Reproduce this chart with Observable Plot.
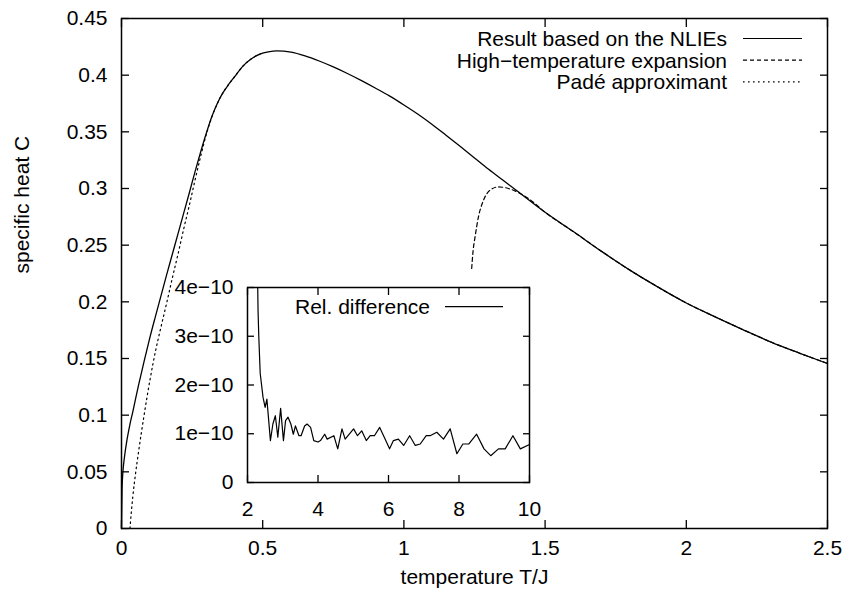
<!DOCTYPE html>
<html><head><meta charset="utf-8">
<script src="https://cdn.jsdelivr.net/npm/d3@7"></script>
<script src="https://cdn.jsdelivr.net/npm/@observablehq/plot@0.6"></script>
<style>
body{margin:0;background:#fff;}
#wrap{position:relative;width:847px;height:596px;overflow:hidden;}
</style></head><body><div id="wrap"></div>
<script>
const FONT = "'Liberation Sans', Arial, Helvetica, sans-serif";
const FS = 21;

// Result based on the NLIEs
const nlieT = [0, 0.002, 0.005, 0.01, 0.02, 0.03, 0.04, 0.06, 0.08, 0.1, 0.12, 0.14, 0.16, 0.18, 0.2, 0.22, 0.24, 0.26, 0.28, 0.3, 0.32, 0.34, 0.36, 0.38, 0.4, 0.43, 0.46, 0.49, 0.52, 0.55, 0.6, 0.65, 0.7, 0.75, 0.8, 0.85, 0.9, 0.95, 1.0, 1.05, 1.1, 1.15, 1.2, 1.25, 1.3, 1.35, 1.4, 1.5, 1.6, 1.7, 1.8, 1.9, 2.0, 2.1, 2.2, 2.3, 2.4, 2.5];
const nlieC = [0, 0.035, 0.05, 0.062, 0.079, 0.092, 0.103, 0.126, 0.1475, 0.168, 0.187, 0.2055, 0.224, 0.242, 0.26, 0.278, 0.296, 0.3145, 0.332, 0.3485, 0.3635, 0.3755, 0.3848, 0.392, 0.3985, 0.408, 0.4145, 0.4185, 0.4205, 0.4214, 0.4203, 0.417, 0.4125, 0.4073, 0.4015, 0.3952, 0.3885, 0.3815, 0.3737, 0.3655, 0.3565, 0.3468, 0.337, 0.327, 0.317, 0.3075, 0.298, 0.279, 0.262, 0.2445, 0.228, 0.213, 0.199, 0.187, 0.1755, 0.1645, 0.1548, 0.1456];

// Padé approximant
const padeT = [0.03, 0.035, 0.04, 0.05, 0.06, 0.07, 0.08, 0.1, 0.12, 0.14, 0.16, 0.18, 0.2, 0.22, 0.24, 0.26, 0.28, 0.3, 0.32, 0.34, 0.36, 0.38, 0.4, 0.43, 0.46, 0.5];
const padeC = [0, 0.015, 0.028, 0.049, 0.067, 0.084, 0.1, 0.13, 0.156, 0.178, 0.199, 0.221, 0.242, 0.264, 0.285, 0.307, 0.328, 0.3475, 0.3632, 0.3753, 0.3848, 0.392, 0.3985, 0.408, 0.4145, 0.4195];

// High-temperature expansion
const htT = [1.24, 1.245, 1.252, 1.264, 1.282, 1.305, 1.335, 1.37, 1.405, 1.45, 1.5, 1.6, 1.7, 1.8, 1.9, 2.0, 2.1, 2.2, 2.3, 2.4, 2.5];
const htC = [0.2294, 0.245, 0.2573, 0.275, 0.2897, 0.2985, 0.3014, 0.3, 0.2965, 0.2895, 0.279, 0.262, 0.2445, 0.228, 0.213, 0.199, 0.187, 0.1755, 0.1645, 0.1548, 0.1456];

// Inset: relative difference
const relT = [2.29, 2.3, 2.32, 2.36, 2.44, 2.5, 2.55, 2.65, 2.72, 2.79, 2.86, 2.94, 3.02, 3.08, 3.15, 3.23, 3.3, 3.36, 3.46, 3.52, 3.62, 3.69, 3.79, 3.88, 4.0, 4.07, 4.19, 4.26, 4.45, 4.56, 4.68, 4.77, 5.01, 5.12, 5.24, 5.37, 5.48, 5.6, 5.75, 5.88, 6.03, 6.14, 6.28, 6.43, 6.6, 6.76, 6.9, 7.07, 7.18, 7.37, 7.56, 7.75, 7.94, 8.11, 8.28, 8.5, 8.71, 8.9, 9.12, 9.31, 9.53, 9.74, 10];
const relD = [4.0e-10, 3.5e-10, 3.0e-10, 2.24e-10, 1.75e-10, 1.54e-10, 1.71e-10, 0.86e-10, 1.2e-10, 1.37e-10, 0.93e-10, 1.52e-10, 0.86e-10, 1.27e-10, 1.34e-10, 1.2e-10, 0.99e-10, 1.16e-10, 0.96e-10, 0.96e-10, 1.16e-10, 1.2e-10, 1.13e-10, 0.86e-10, 0.83e-10, 0.86e-10, 0.99e-10, 0.89e-10, 0.96e-10, 0.69e-10, 1.1e-10, 0.89e-10, 1.1e-10, 0.96e-10, 1.06e-10, 0.86e-10, 0.96e-10, 0.96e-10, 1.13e-10, 0.93e-10, 0.69e-10, 0.86e-10, 0.89e-10, 0.76e-10, 0.96e-10, 0.76e-10, 0.79e-10, 0.96e-10, 0.96e-10, 1.03e-10, 0.89e-10, 1.1e-10, 0.59e-10, 0.79e-10, 0.79e-10, 0.99e-10, 0.69e-10, 0.55e-10, 0.69e-10, 0.69e-10, 0.96e-10, 0.69e-10, 0.78e-10];

// ticks and labels
const xTicks = [0, 0.5, 1, 1.5, 2, 2.5];
const xTickLabels = ["0", "0.5", "1", "1.5", "2", "2.5"];
const yTicks = [0, 0.05, 0.1, 0.15, 0.2, 0.25, 0.3, 0.35, 0.4, 0.45];
const yTickLabels = ["0", "0.05", "0.1", "0.15", "0.2", "0.25", "0.3", "0.35", "0.4", "0.45"];
const insetXTicks = [2, 4, 6, 8, 10];
const insetXTickLabels = ["2", "4", "6", "8", "10"];
const insetYTicks = [0, 1e-10, 2e-10, 3e-10, 4e-10];
const insetYTickLabels = ["0", "1e\u221210", "2e\u221210", "3e\u221210", "4e\u221210"];
const legendLabels = ["Result based on the NLIEs", "High\u2212temperature expansion", "Pad\u00e9 approximant"];
const insetLegendLabel = "Rel. difference";
const xLabel = "temperature T/J";
const yLabel = "specific heat C";

const zip = (xs, ys, kx, ky) => xs.map((v, i) => ({[kx]: v, [ky]: ys[i]}));
const nlie = zip(nlieT, nlieC, "T", "C");
const pade = zip(padeT, padeC, "T", "C");
const ht = zip(htT, htC, "T", "C");
const rel = zip(relT, relD, "T", "D");

const W = 847, H = 596, ML = 121, MR = 20, MT = 18, MB = 68;
const dashes = [null, "4,3", "1.6,3.4"];

const main = Plot.plot({
  width: W, height: H,
  marginLeft: ML, marginRight: MR, marginTop: MT, marginBottom: MB,
  style: {fontFamily: FONT, fontSize: FS + "px", color: "#000", background: "#fff", overflow: "visible"},
  x: {domain: [0, 2.5], label: null},
  y: {domain: [0, 0.45], label: null},
  marks: [
    Plot.axisX({anchor: "bottom", ticks: xTicks, tickSize: -8, tickPadding: 20, strokeWidth: 1.3,
      tickFormat: d => xTickLabels[xTicks.indexOf(d)], label: null}),
    Plot.axisX({anchor: "top", ticks: xTicks, tickSize: -8, strokeWidth: 1.3, tickFormat: () => "", label: null}),
    Plot.axisY({anchor: "left", ticks: yTicks, tickSize: -8, tickPadding: 22, strokeWidth: 1.3,
      tickFormat: d => yTickLabels[yTicks.indexOf(d)], label: null}),
    Plot.axisY({anchor: "right", ticks: yTicks, tickSize: -8, strokeWidth: 1.3, tickFormat: () => "", label: null}),
    Plot.line(pade, {x: "T", y: "C", stroke: "black", strokeWidth: 1.2, strokeDasharray: dashes[2], curve: "monotone-x"}),
    Plot.line(ht, {x: "T", y: "C", stroke: "black", strokeWidth: 1.2, strokeDasharray: dashes[1], curve: "monotone-x"}),
    Plot.line(nlie, {x: "T", y: "C", stroke: "black", strokeWidth: 1.3, curve: "monotone-x"}),
    Plot.frame({stroke: "black", strokeWidth: 1.5}),
    Plot.text([xLabel], {frameAnchor: "bottom", dy: 55, text: d => d, fill: "black"}),
    Plot.text([yLabel], {frameAnchor: "left", dx: -99, rotate: -90, text: d => d, fill: "black"})
  ]
});

// legend (layout only)
{
  const g = d3.select(main).append("g").attr("font-family", FONT).attr("font-size", FS);
  legendLabels.forEach((lab, i) => {
    const y = 38.5 + 21.7 * i;
    g.append("text").attr("x", 727).attr("y", y).attr("dy", "0.35em").attr("text-anchor", "end").attr("fill", "black").text(lab);
    const ln = g.append("line").attr("x1", 743).attr("x2", 802).attr("y1", y).attr("y2", y)
      .attr("stroke", "black").attr("stroke-width", 1.2);
    if (dashes[i]) ln.attr("stroke-dasharray", dashes[i]);
  });
}

const IL = 90, IR = 12, IT = 12, IB = 45, IW = 282, IH = 195;
const inset = Plot.plot({
  width: IL + IW + IR, height: IT + IH + IB,
  marginLeft: IL, marginRight: IR, marginTop: IT, marginBottom: IB,
  style: {fontFamily: FONT, fontSize: FS + "px", color: "#000", background: "transparent", overflow: "visible"},
  x: {domain: [2, 10], label: null},
  y: {domain: [0, 4e-10], label: null},
  marks: [
    Plot.axisX({anchor: "bottom", ticks: insetXTicks, tickSize: -7, tickPadding: 26, strokeWidth: 1.3,
      tickFormat: d => insetXTickLabels[insetXTicks.indexOf(d)], label: null}),
    Plot.axisX({anchor: "top", ticks: insetXTicks, tickSize: -7, strokeWidth: 1.3, tickFormat: () => "", label: null}),
    Plot.axisY({anchor: "left", ticks: insetYTicks, tickSize: -7, tickPadding: 21, strokeWidth: 1.3,
      tickFormat: d => insetYTickLabels[insetYTicks.indexOf(d)], label: null}),
    Plot.axisY({anchor: "right", ticks: insetYTicks, tickSize: -7, strokeWidth: 1.3, tickFormat: () => "", label: null}),
    Plot.line(rel, {x: "T", y: "D", stroke: "black", strokeWidth: 1.2}),
    Plot.frame({stroke: "black", strokeWidth: 1.5})
  ]
});
{
  const g = d3.select(inset).append("g").attr("font-family", FONT).attr("font-size", FS);
  const y = IT + 19.7;
  g.append("text").attr("x", IL + 183).attr("y", y).attr("dy", "0.35em").attr("text-anchor", "end").attr("fill", "black").text(insetLegendLabel);
  g.append("line").attr("x1", IL + 198).attr("x2", IL + 256).attr("y1", y).attr("y2", y).attr("stroke", "black").attr("stroke-width", 1.2);
}
inset.style.position = "absolute";
inset.style.left = (247 - IL) + "px";
inset.style.top = (287 - IT) + "px";
inset.style.maxWidth = "none";

const wrap = document.getElementById("wrap");
wrap.appendChild(main);
wrap.appendChild(inset);
</script></body></html>
